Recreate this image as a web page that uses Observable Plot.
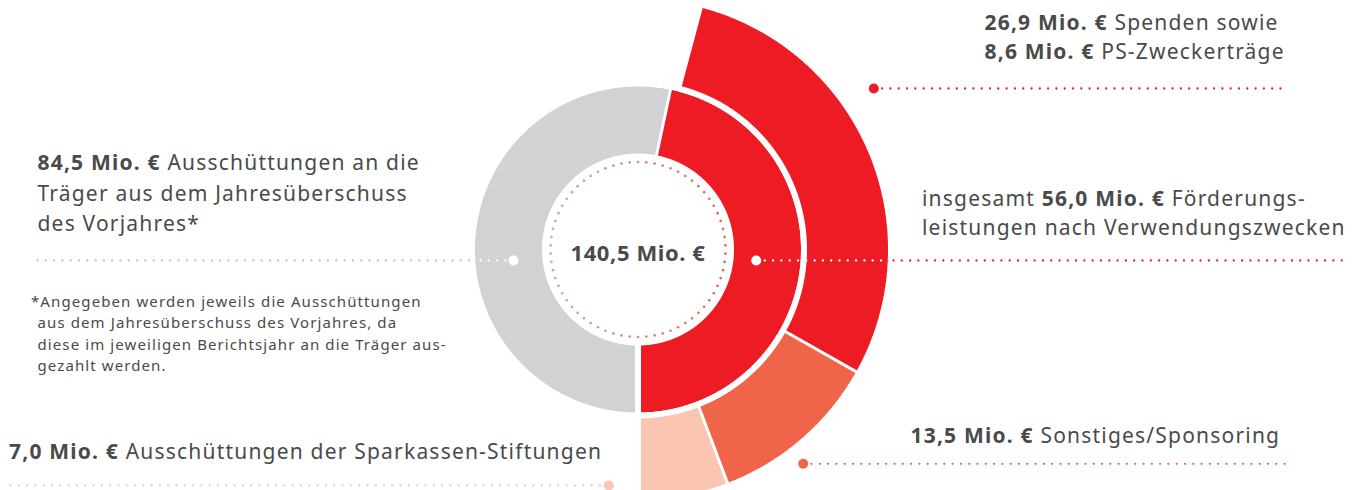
<!DOCTYPE html>
<html>
<head>
<meta charset="utf-8">
<script src="https://cdn.jsdelivr.net/npm/d3@7"></script>
<script src="https://cdn.jsdelivr.net/npm/@observablehq/plot@0.6"></script>
<style>
  html, body { margin: 0; padding: 0; background: #fff; }
  #chart svg { display: block; }
</style>
</head>
<body>
<div id="chart"></div>
<script>
// ---------------- DATA ----------------
const totalLabel = "140,5 Mio. €";
const innerCategories = ["Ausschüttungen an die Träger", "Förderungsleistungen"];
const innerValues = [84.5, 56.0];
const outerCategories = ["Spenden", "PS-Zweckerträge", "Sonstiges/Sponsoring", "Sparkassen-Stiftungen"];
const outerValues = [26.9, 8.6, 13.5, 7.0];
const outerGroups = ["Spenden und PS-Zweckerträge", "Spenden und PS-Zweckerträge", "Sonstiges/Sponsoring", "Sparkassen-Stiftungen"];
const outerGroupOrder = ["Spenden und PS-Zweckerträge", "Sonstiges/Sponsoring", "Sparkassen-Stiftungen"];

// label texts (|…| = bold)
const labelSpenden = ["|26,9 Mio. €| Spenden sowie", "|8,6 Mio. €| PS-Zweckerträge"];
const labelTraeger = ["|84,5 Mio. €| Ausschüttungen an die", "Träger aus dem Jahresüberschuss", "des Vorjahres*"];
const labelFoerder = ["insgesamt |56,0 Mio. €| Förderungs-", "leistungen nach Verwendungszwecken"];
const labelSonstiges = ["|13,5 Mio. €| Sonstiges/Sponsoring"];
const labelStiftungen = ["|7,0 Mio. €| Ausschüttungen der Sparkassen-Stiftungen"];
const footnote = [
  "*Angegeben werden jeweils die Ausschüttungen",
  "aus dem Jahresüberschuss des Vorjahres, da",
  "diese im jeweiligen Berichtsjahr an die Träger aus-",
  "gezahlt werden."
];

// ---------------- LAYOUT ----------------
const W = 1361, H = 490, CX = 637.5, CY = 249;
const px = v => v - CX;        // page x -> plot x
const py = v => CY - v;        // page y -> plot y
const colors = {
  gray: "#d1d2d4", red: "#ed1c24", orange: "#f0654a", peach: "#fbc6b1",
  text: "#4a4a4a", grayLine: "#c4c4c4"
};
const outerColors = [colors.red, colors.orange, colors.peach];
const innerColors = [colors.gray, colors.red];
const gap = 6;
const inner = {r0: 93, r1: 166, start: 12};     // red part starts at 12° (clockwise from top)
const outer = {r0: 166, r1: 253, start: 15, end: 180};

function arcPolygon(a0, a1, r0, r1, key) {
  const pts = [];
  const n = Math.max(2, Math.ceil(Math.abs(a1 - a0) / 0.5));
  for (let i = 0; i <= n; i++) {
    const a = (a0 + (a1 - a0) * i / n) * Math.PI / 180;
    pts.push({x: r1 * Math.sin(a), y: r1 * Math.cos(a), key});
  }
  for (let i = n; i >= 0; i--) {
    const a = (a0 + (a1 - a0) * i / n) * Math.PI / 180;
    pts.push({x: r0 * Math.sin(a), y: r0 * Math.cos(a), key});
  }
  return pts;
}

// outer ring: angle scale driven by the values
const groupSums = outerGroupOrder.map(g => d3.sum(outerValues.filter((v, i) => outerGroups[i] === g)));
const outerTotal = d3.sum(groupSums);
const angle = d3.scaleLinear().domain([0, outerTotal]).range([outer.start, outer.end]);
let cum = 0;
const outerArcs = groupSums.map((v, i) => {
  const a0 = angle(cum); cum += v; const a1 = angle(cum);
  return {pts: arcPolygon(a0, a1, outer.r0, outer.r1, outerGroupOrder[i]), color: outerColors[i]};
});
// inner ring: Förderungsleistungen (= sum of outer ring) spans the same sector, the rest is the Ausschüttungen
const innerArcs = [
  {pts: arcPolygon(180, 360 + inner.start, inner.r0, inner.r1, innerCategories[0]), color: innerColors[0]},
  {pts: arcPolygon(inner.start, 180, inner.r0, inner.r1, innerCategories[1]), color: innerColors[1]}
];

// decorative dotted circle
const ringDots = d3.range(66).map(i => {
  const a = i / 66 * 2 * Math.PI;
  const t = (1 + Math.sin(a)) / 2;
  return {x: 87.5 * Math.sin(a), y: 87.5 * Math.cos(a), c: d3.interpolateRgb("#c3aea8", "#e8684f")(t)};
});

// leader lines
const leaders = [
  {x1: 873.3, x2: 1287, y: 88, color: colors.red},
  {x1: 37, x2: 474, y: 260, color: colors.grayLine},
  {x1: 480, x2: 509, y: 260, color: "#ffffff"},
  {x1: 756, x2: 884, y: 260, color: "#ffffff"},
  {x1: 893, x2: 1347, y: 260, color: colors.red},
  {x1: 802.7, x2: 1287, y: 463.3, color: colors.orange},
  {x1: 10, x2: 608.3, y: 485, color: colors.peach}
];
const leaderDots = [
  {x: 873.3, y: 88, color: colors.red},
  {x: 513, y: 260, color: "#ffffff"},
  {x: 755.7, y: 260, color: "#ffffff"},
  {x: 802.7, y: 463.3, color: colors.orange},
  {x: 608.3, y: 485, color: colors.peach}
];

const texts = [
  ...labelSpenden.map((t, i) => ({text: t, x: 984, y: 29 + i * 29, size: 21})),
  ...labelTraeger.map((t, i) => ({text: t, x: 37, y: 169.5 + i * 30.5, size: 21})),
  ...labelFoerder.map((t, i) => ({text: t, x: 921.5, y: 205.5 + i * 29, size: 21})),
  ...labelSonstiges.map((t, i) => ({text: t, x: 910, y: 442, size: 21})),
  ...labelStiftungen.map((t, i) => ({text: t, x: 8.5, y: 458.3, size: 21})),
  ...footnote.map((t, i) => ({text: t, x: i === 0 ? 30.5 : 37, y: 306 + i * 21.5, size: 15}))
];
const letterSpacing = {21: "1.2px", 15: "1.1px", 22: "0.6px"};

const marks = [];
for (const a of [...innerArcs, ...outerArcs]) {
  marks.push(Plot.line(a.pts, {x: "x", y: "y", fill: a.color, stroke: "#ffffff", strokeWidth: gap, strokeLinejoin: "miter", curve: "linear"}));
}
marks.push(Plot.dot(ringDots, {x: "x", y: "y", r: 1.35, fill: "c", stroke: null}));
for (const l of leaders) {
  marks.push(Plot.link([l], {x1: d => px(d.x1), x2: d => px(d.x2), y1: d => py(d.y), y2: d => py(d.y),
    stroke: l.color, strokeWidth: 2.3, strokeLinecap: "round", strokeDasharray: "0,8.3"}));
}
marks.push(Plot.dot(leaderDots, {x: d => px(d.x), y: d => py(d.y), r: 5, fill: d => d.color, stroke: null}));
for (const size of [21, 15]) {
  marks.push(Plot.text(texts.filter(d => d.size === size), {
    x: d => px(d.x), y: d => py(d.y), text: "text", textAnchor: "start", lineAnchor: "bottom",
    fontSize: size, fill: colors.text
  }));
}
marks.push(Plot.text([totalLabel], {x: 0, y: py(260), text: d => d, textAnchor: "middle", lineAnchor: "bottom",
  fontSize: 22, fontWeight: "bold", fill: colors.text}));

const chart = Plot.plot({
  width: W, height: H,
  marginTop: 0, marginRight: 0, marginBottom: 0, marginLeft: 0,
  x: {domain: [-CX, W - CX], axis: null},
  y: {domain: [-(H - CY), CY], axis: null},
  style: {fontFamily: "'Noto Sans', sans-serif", background: "#ffffff", overflow: "hidden"},
  marks
});

// letter spacing + bold segments marked with |…|
chart.querySelectorAll("text").forEach(t => {
  const g = t.closest("[font-size]");
  const fs = g ? Math.round(parseFloat(g.getAttribute("font-size"))) : null;
  if (fs && letterSpacing[fs]) t.style.letterSpacing = letterSpacing[fs];
  const s = t.textContent;
  if (!s.includes("|")) return;
  t.textContent = "";
  s.split("|").forEach((part, i) => {
    if (!part) return;
    const ts = document.createElementNS("http://www.w3.org/2000/svg", "tspan");
    if (i % 2) ts.setAttribute("font-weight", "bold");
    ts.textContent = part;
    t.appendChild(ts);
  });
});
document.getElementById("chart").appendChild(chart);
</script>
</body>
</html>
